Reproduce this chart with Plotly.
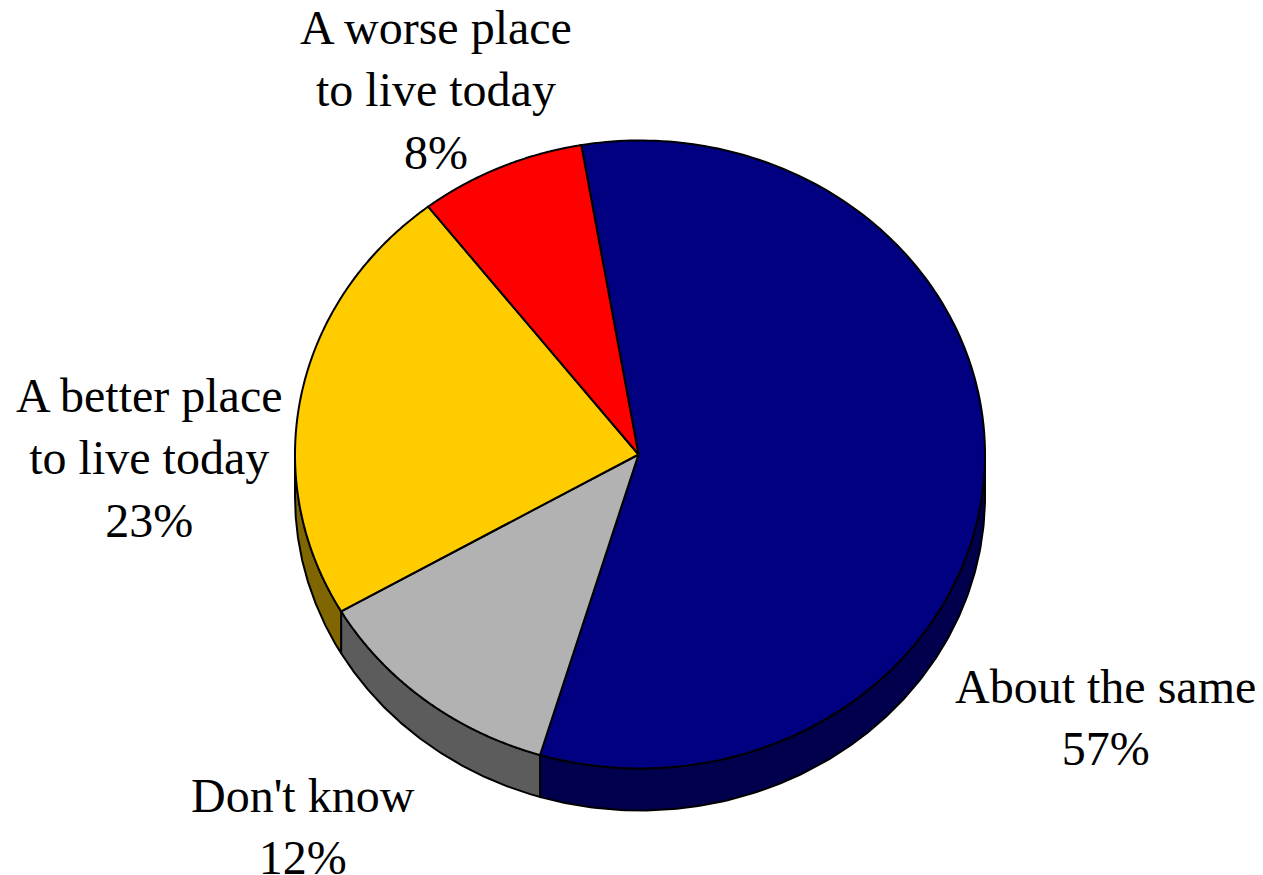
import numpy as np
import plotly.graph_objects as go

labels = ["About the same", "Don't know", "A better place<br>to live today", "A worse place<br>to live today"]
pct_labels = ["57%", "12%", "23%", "8%"]
shares = [57.4, 12.0, 22.8, 7.8]
top_colors = ["#000080", "#b2b2b2", "#ffcc00", "#ff0000"]
side_colors = ["#00004d", "#5c5c5c", "#806600", "#990000"]
label_x = [1105, 303, 149, 436]
label_y = [717, 826, 458, 90]

CX, CY, RX, RY, DEPTH = 640, 454.5, 345, 314, 42
START = -9.8
FONT = dict(family="Liberation Serif", size=48, color="black")
LINE = dict(color="black", width=2)


def ell(t):
    t = np.radians(t)
    return CX + RX * np.sin(t), CY - RY * np.cos(t)


fig = go.Figure()
edges = START + np.cumsum([0] + shares) * 3.6

for i in range(len(shares)):
    a, b = max(edges[i], 90), min(edges[i + 1], 270)
    if a < b:
        t = np.linspace(a, b, 150)
        x, y = ell(t)
        fig.add_trace(go.Scatter(
            x=np.r_[x, x[::-1], x[0]], y=np.r_[y, y[::-1] + DEPTH, y[0]],
            mode="lines", fill="toself", fillcolor=side_colors[i], line=LINE,
            hoverinfo="skip", showlegend=False, cliponaxis=False))

for i in range(len(shares)):
    t = np.linspace(edges[i], edges[i + 1], 200)
    x, y = ell(t)
    fig.add_trace(go.Scatter(
        x=np.r_[CX - 1.5, x, CX - 1.5], y=np.r_[CY, y, CY],
        mode="lines", fill="toself", fillcolor=top_colors[i],
        line=dict(color="black", width=2, simplify=False),
        name=labels[i], hoverinfo="name", showlegend=False, cliponaxis=False))

for lab, pct, lx, ly in zip(labels, pct_labels, label_x, label_y):
    fig.add_annotation(x=lx, y=ly, text=f"{lab}<br>{pct}", showarrow=False,
                       font=FONT, align="center", xanchor="center", yanchor="middle")

# The page adds an 8 px body margin, so the plot area covers page pixels 8..1263 and 8..875.
fig.update_layout(
    width=1255, height=867, margin=dict(l=0, r=0, t=0, b=0),
    paper_bgcolor="white", plot_bgcolor="white",
    xaxis=dict(range=[8, 1263], visible=False),
    yaxis=dict(range=[875, 8], visible=False),
)
fig.write_html("out.html", config=dict(displayModeBar=False))
